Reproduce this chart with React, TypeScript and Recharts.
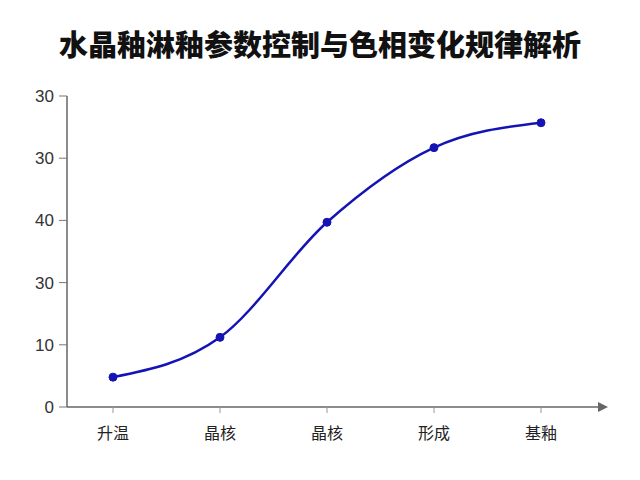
import React from 'react';
import { LineChart, Line, XAxis, YAxis } from 'recharts';

const stages = ['升温', '晶核', '晶核', '形成', '基釉'];
const hueValues = [4.8, 11.2, 29.7, 41.7, 45.7];
const yTicks = [0, 10, 20, 30, 40, 50];
const yTickLabels = ['0', '10', '30', '40', '30', '30'];

const data = stages.map((s, i) => ({ key: `${s}-${i}`, stage: s, value: hueValues[i] }));

const title = '水晶釉淋釉参数控制与色相变化规律解析';

export default function App() {
  return (
    <div style={{ position: 'absolute', left: 0, top: 0, width: 640, height: 480, background: '#fff' }}>
      <svg width={0} height={0} style={{ position: 'absolute' }}>
        <defs>
          <marker id="xarrow" viewBox="0 0 10 10" refX="2" refY="5" markerWidth="10" markerHeight="10" markerUnits="userSpaceOnUse" orient="auto">
            <path d="M0,0 L10,5 L0,10 z" fill="#666" />
          </marker>
        </defs>
      </svg>
      <div
        style={{
          position: 'absolute', left: 0, top: 22, width: 640, textAlign: 'center',
          fontFamily: '"Noto Sans CJK SC", sans-serif', fontWeight: 900, fontSize: 29, color: '#111',
        }}
      >
        {title}
      </div>
      <LineChart width={640} height={480} data={data} margin={{ top: 96, right: 40, bottom: 43, left: 7 }}>
        <XAxis
          dataKey="key"
          tickFormatter={(v: string) => v.split('-')[0]}
          padding={{ left: 46, right: 59 }}
          axisLine={{ stroke: '#666', strokeWidth: 1.5, markerEnd: 'url(#xarrow)' }}
          tickLine={{ stroke: '#999' }}
          tickSize={6}
          tickMargin={15}
          tick={{ fill: '#222', fontSize: 16, fontFamily: '"Noto Sans CJK SC", sans-serif' }}
        />
        <YAxis
          type="number"
          domain={[0, 50]}
          ticks={yTicks}
          tickFormatter={(v: number) => yTickLabels[yTicks.indexOf(v)]}
          width={60}
          axisLine={{ stroke: '#666', strokeWidth: 1.5 }}
          tickLine={{ stroke: '#777' }}
          tickSize={8}
          tickMargin={5}
          tick={{ fill: '#333', fontSize: 17, fontFamily: '"Liberation Sans", Arial, sans-serif' }}
        />
        <Line
          type="monotone"
          dataKey="value"
          stroke="#1414b4"
          strokeWidth={2.5}
          dot={{ r: 4, fill: '#1414b4', stroke: '#1414b4', strokeWidth: 1 }}
          activeDot={false}
          isAnimationActive={false}
        />
      </LineChart>
    </div>
  );
}
